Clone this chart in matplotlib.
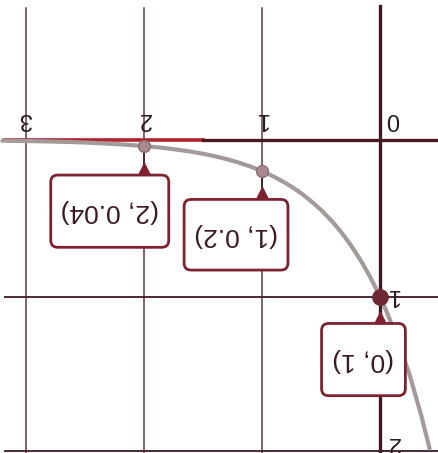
import matplotlib
matplotlib.use('Agg')
import matplotlib.pyplot as plt
from matplotlib.patches import FancyBboxPatch

# Kurve lest av bildet (y = 0.2^x), bildet er rotert 180 grader
kurve_x = [-0.42, -0.35, -0.25, -0.15, -0.05, 0.0, 0.05, 0.1, 0.15, 0.2, 0.25, 0.3, 0.35,
           0.4, 0.45, 0.5, 0.55, 0.6, 0.65, 0.7, 0.75, 0.8, 0.85, 0.9, 0.95, 1.0,
           1.1, 1.2, 1.3, 1.4, 1.5, 1.6, 1.7, 1.8, 1.9, 2.0, 2.2, 2.4, 2.6, 2.8, 3.0, 3.2]
kurve_y = [1.966, 1.757, 1.495, 1.273, 1.084, 1.0, 0.923, 0.851, 0.786, 0.725, 0.669,
           0.617, 0.569, 0.525, 0.485, 0.447, 0.413, 0.381, 0.351, 0.324, 0.299, 0.276,
           0.255, 0.235, 0.217, 0.2, 0.170, 0.145, 0.123, 0.105, 0.089, 0.076, 0.065,
           0.055, 0.047, 0.04, 0.029, 0.021, 0.015, 0.011, 0.008, 0.006]

# Markerte punkter og etiketter
punkt_x = [0, 1, 2]
punkt_y = [1, 0.2, 0.04]
punkt_tekst = ['(0, 1)', '(1, 0.2)', '(2, 0.04)']

x_ticks = [0, 1, 2, 3]
y_ticks = [1, 2]

maroon = '#7e2230'
dark = '#3c1c22'
font = ['Liberation Sans', 'DejaVu Sans']

fig = plt.figure(figsize=(4.39, 4.53), dpi=100)
ax = fig.add_axes([0, 0, 1, 1])
ax.set_xlim(3.22, -0.5)
ax.set_ylim(1.995, -0.89)
ax.axis('off')

# Rutenett
for x in x_ticks[1:]:
    ax.plot([x, x], [-0.84, 1.995], color='#5e3a40', lw=1.1, zorder=1)
for y in y_ticks:
    ax.plot([3.18, -0.5], [min(y, 1.98), min(y, 1.98)], color='#4a2a30', lw=1.4, zorder=1)

# Akser
ax.plot([0, 0], [-0.85, 1.995], color=dark, lw=2.4, zorder=2)
ax.plot([3.18, 1.5], [0, 0], color='#b0232c', lw=2.6, zorder=2)
ax.plot([1.5, -0.5], [0, 0], color='#4a1a20', lw=2.4, zorder=2)

# Tallene på aksene (opp ned)
for x in x_ticks:
    xp = x if x != 0 else -0.11
    ax.text(xp, -0.13, str(x), rotation=180, ha='center', va='center',
            fontsize=17, family=font, color='#2a1a1c')
for y in y_ticks:
    ax.text(-0.11, min(y - 0.01, 1.93), str(y), rotation=180, ha='center', va='center',
            fontsize=17, family=font, color='#2a1a1c')

# Kurven
ax.plot(kurve_x, kurve_y, color='#a39a9a', lw=3, zorder=3, solid_capstyle='round',
        solid_joinstyle='round')

# Etikettbokser: senter (x, y), bredde, høyde i dataenheter
bokser = [(0.14, 1.40, 0.71, 0.46), (1.22, 0.605, 0.88, 0.45), (2.29, 0.455, 1.0, 0.46)]
trekant_y = [1.15, 0.355, 0.20]

for i in range(len(punkt_x)):
    px, py = punkt_x[i], punkt_y[i]
    cx, cy, w, h = bokser[i]
    ax.plot([px, px], [py, cy - h / 2], color=dark, lw=1.2, zorder=4)
    ax.plot([px], [trekant_y[i]], marker='^', markersize=12, color=maroon, zorder=5)
    boks = FancyBboxPatch((cx - w / 2, cy - h / 2), w, h,
                          boxstyle='round,pad=0,rounding_size=0.06', mutation_aspect=0.75,
                          facecolor='white', edgecolor=maroon, lw=2, zorder=6)
    ax.add_patch(boks)
    ax.text(cx, cy, punkt_tekst[i], rotation=180, ha='center', va='center',
            fontsize=19, family=font, color='#3a1a20', zorder=7)

# Punktene
ax.plot([punkt_x[0]], [punkt_y[0]], 'o', markersize=11, color='#6e2632', zorder=8)
ax.plot(punkt_x[1:], punkt_y[1:], 'o', markersize=8.5, color='#a88a8e',
        markeredgecolor='#8a6a70', zorder=8)

fig.savefig('out.png', dpi=100)
